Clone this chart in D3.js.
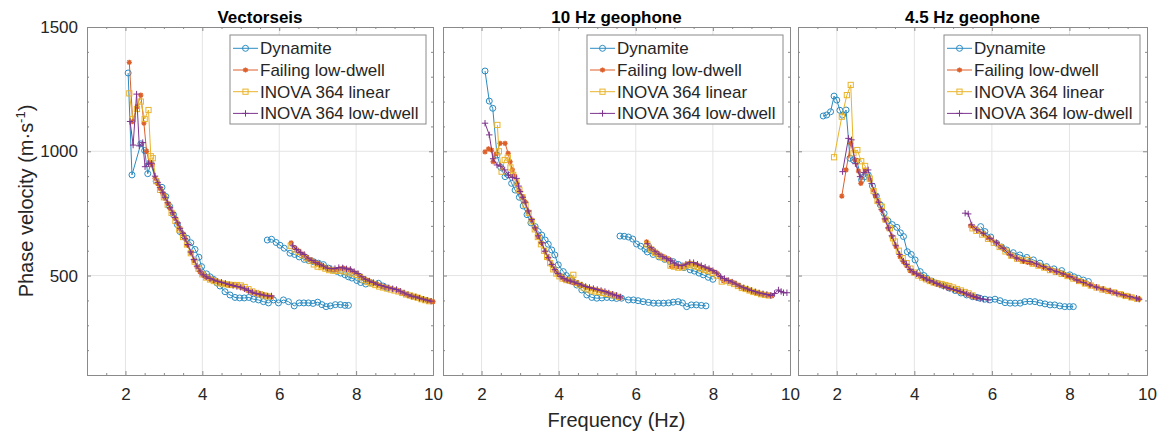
<!DOCTYPE html>
<html><head><meta charset="utf-8">
<script src="https://cdn.jsdelivr.net/npm/d3@7"></script>
<style>body{margin:0;background:#fff}svg{display:block}</style>
</head><body><svg id="c" width="1164" height="437"></svg>
<script>
// ---------- data ----------
const panelTitles = ["Vectorseis", "10 Hz geophone", "4.5 Hz geophone"];
const seriesNames = ["Dynamite", "Failing low-dwell", "INOVA 364 linear", "INOVA 364 low-dwell"];
const xTicks = [2, 4, 6, 8, 10];
const xMinorTicks = [1, 1.5, 2.5, 3, 3.5, 4.5, 5, 5.5, 6.5, 7, 7.5, 8.5, 9, 9.5];
const yTicks = [500, 1000, 1500];
const yMinorTicks = [100, 200, 300, 400, 600, 700, 800, 900, 1100, 1200, 1300, 1400];
const xDomain = [1, 10];
const yDomain = [100, 1500];

// Vectorseis
const vsDynamite = [[2.07,1315],[2.17,905],[2.40,1030],[2.50,1003],[2.58,910],[2.66,950],[2.80,880],[2.95,855],[3.05,818],[3.15,778],[3.25,745],[3.35,705],[3.42,677],[3.50,663],[3.60,650],[3.70,632],[3.81,605],[3.91,574],[3.98,536],[4.11,507],[4.20,495],[4.29,485],[4.38,470],[4.46,458],[4.59,435],[4.72,422],[4.85,412],[4.97,410],[5.09,410],[5.21,412],[5.33,405],[5.46,402],[5.59,395],[5.72,390],[5.85,402],[5.98,390],[6.11,402],[6.24,395],[6.39,378],[6.52,390],[6.64,390],[6.76,390],[6.88,388],[7.00,393],[7.11,383],[7.22,375],[7.33,378],[7.46,383],[7.59,383],[7.71,380],[7.80,380],null,
[5.69,643],[5.80,646],[5.92,633],[6.02,622],[6.13,610],[6.28,590],[6.40,585],[6.52,575],[6.65,565],[6.77,560],[6.89,556],[7.02,550],[7.15,544],[7.28,530],[7.40,522],[7.50,517],[7.60,510],[7.71,503],[7.80,495],[7.89,490],[8.02,480],[8.12,472],[8.25,466],[8.40,470],[8.58,469],[8.70,458],[8.80,450]];
const vsFailing = [[2.10,1358],[2.19,1119],[2.30,1180],[2.40,1226],[2.48,1113],[2.55,1000],[2.62,955],[2.70,945],[2.77,891],[2.84,870],[2.90,851],[2.97,830],[3.03,811],[3.10,790],[3.16,771],[3.23,750],[3.29,730],[3.36,710],[3.42,690],[3.49,668],[3.55,650],[3.62,622],[3.70,592],[3.78,560],[3.86,535],[3.94,515],[4.02,502],[4.10,494],[4.20,486],[4.30,480],[4.40,475],[4.50,470],[4.60,466],[4.70,462],[4.80,460],[4.90,458],[5.00,452],[5.10,446],[5.20,438],[5.30,432],[5.40,427],[5.50,424],[5.60,421],[5.70,416],[5.80,413],null,
[6.31,632],[6.40,612],[6.46,603],[6.55,592],[6.63,583],[6.72,572],[6.80,563],[6.90,556],[6.98,550],[7.07,542],[7.15,536],[7.25,528],[7.32,525],[7.42,524],[7.50,523],[7.58,528],[7.67,530],[7.75,525],[7.84,523],[7.93,515],[8.02,509],[8.10,498],[8.19,489],[8.28,482],[8.36,476],[8.45,470],[8.54,466],[8.62,460],[8.71,455],[8.80,452],[8.88,449],[8.97,445],[9.06,442],[9.15,435],[9.23,429],[9.32,423],[9.40,418],[9.49,416],[9.58,413],[9.66,409],[9.75,405],[9.84,401],[9.92,398],[10.0,395]];
const vsLinear = [[2.10,1233],[2.19,1130],[2.30,1170],[2.40,1200],[2.50,1130],[2.60,1166],[2.66,980],[2.71,972],[2.80,880],[2.90,845],[3.00,815],[3.10,785],[3.20,752],[3.30,720],[3.40,685],[3.50,655],[3.60,625],[3.70,590],[3.80,556],[3.90,528],[4.00,505],[4.10,492],[4.20,484],[4.30,478],[4.40,472],[4.50,468],[4.60,465],[4.70,463],[4.80,462],[4.90,462],[5.00,460],[5.10,454],[5.20,445],[5.30,436],[5.40,430],[5.50,425],[5.60,420],[5.70,416],null,
[6.30,620],[6.40,605],[6.50,595],[6.60,582],[6.70,570],[6.80,560],[6.90,545],[7.00,536],[7.10,534],[7.20,528],[7.30,522],[7.40,520],[7.50,519],[7.60,520],[7.70,517],[7.80,513],[7.90,508],[8.00,503],[8.10,494],[8.20,482],[8.30,474],[8.40,468],[8.50,462],[8.60,456],[8.70,452],[8.80,448],[8.90,444],[9.00,440],[9.10,436],[9.20,430],[9.30,424],[9.40,420],[9.50,415],[9.60,411],[9.70,405],[9.80,401],[9.90,397]];
const vsLowDwell = [[2.12,1120],[2.20,1025],[2.29,1230],[2.36,1022],[2.45,1035],[2.51,938],[2.60,950],[2.68,952],[2.77,900],[2.84,875],[2.90,855],[2.97,835],[3.03,815],[3.10,793],[3.16,773],[3.23,753],[3.29,733],[3.36,712],[3.42,690],[3.49,670],[3.55,648],[3.62,625],[3.70,595],[3.78,565],[3.86,538],[3.94,518],[4.02,503],[4.10,495],[4.20,488],[4.30,482],[4.40,477],[4.50,473],[4.60,469],[4.70,464],[4.80,460],[4.90,456],[5.00,453],[5.10,447],[5.20,440],[5.30,433],[5.40,428],[5.50,425],[5.60,421],[5.70,418],[5.80,418],null,
[6.35,620],[6.45,605],[6.55,593],[6.65,585],[6.75,570],[6.85,561],[6.95,552],[7.05,545],[7.15,538],[7.25,530],[7.35,528],[7.45,528],[7.55,532],[7.65,531],[7.75,527],[7.85,525],[7.95,516],[8.05,508],[8.15,495],[8.25,485],[8.35,478],[8.45,472],[8.55,465],[8.65,460],[8.75,455],[8.85,451],[8.95,447],[9.05,444],[9.15,437],[9.25,430],[9.35,423],[9.45,417],[9.55,414],[9.65,409],[9.75,405],[9.85,401],[9.95,397]];

// 10 Hz geophone
const g10Dynamite = [[2.09,1323],[2.20,1202],[2.29,1173],[2.40,985],[2.50,935],[2.61,898],[2.69,905],[2.78,871],[2.87,844],[2.98,815],[3.08,780],[3.18,745],[3.28,712],[3.39,697],[3.47,677],[3.56,663],[3.65,643],[3.73,626],[3.82,603],[3.90,583],[3.99,543],[4.12,516],[4.20,500],[4.29,489],[4.38,475],[4.47,462],[4.60,442],[4.73,422],[4.86,412],[4.99,409],[5.12,410],[5.25,412],[5.38,410],[5.50,408],[5.63,409],[5.81,402],[5.94,402],[6.06,399],[6.19,395],[6.33,392],[6.46,389],[6.59,389],[6.72,389],[6.85,390],[6.97,393],[7.10,395],[7.21,390],[7.32,375],[7.44,382],[7.57,382],[7.70,380],[7.82,378],null,
[5.59,659],[5.70,658],[5.81,655],[5.92,647],[6.02,627],[6.13,618],[6.24,606],[6.30,595],[6.45,585],[6.60,575],[6.75,565],[6.89,556],[6.97,556],[7.10,545],[7.25,532],[7.41,523],[7.52,518],[7.64,510],[7.75,503],[7.88,493],[8.00,485]];
const g10Failing = [[2.09,998],[2.18,1010],[2.26,1005],[2.30,958],[2.38,990],[2.48,1032],[2.61,1032],[2.69,992],[2.74,958],[2.80,925],[2.86,900],[2.93,870],[3.00,838],[3.07,815],[3.13,797],[3.21,757],[3.30,724],[3.39,690],[3.47,657],[3.56,630],[3.65,596],[3.73,570],[3.82,543],[3.90,522],[3.98,506],[4.06,495],[4.14,485],[4.22,480],[4.30,476],[4.40,472],[4.50,467],[4.60,460],[4.70,454],[4.80,449],[4.90,446],[5.00,442],[5.10,438],[5.20,433],[5.30,428],[5.40,422],[5.50,418],[5.60,410],null,
[6.28,636],[6.37,610],[6.46,598],[6.54,590],[6.62,583],[6.71,576],[6.80,569],[6.89,563],[6.93,536],[7.00,540],[7.06,536],[7.15,535],[7.23,536],[7.32,543],[7.41,550],[7.50,546],[7.58,543],[7.67,536],[7.75,530],[7.84,526],[7.92,523],[8.01,516],[8.10,509],[8.18,495],[8.27,480],[8.36,482],[8.45,476],[8.53,472],[8.62,463],[8.70,455],[8.79,450],[8.88,445],[8.96,440],[9.05,435],[9.14,430],[9.22,426],[9.31,424],[9.40,422],[9.48,420],[9.53,418]];
const g10Linear = [[2.41,1106],[2.45,1000],[2.52,918],[2.60,965],[2.68,975],[2.75,935],[2.82,905],[2.90,875],[2.98,845],[3.06,815],[3.14,785],[3.22,752],[3.30,718],[3.38,686],[3.46,655],[3.54,626],[3.62,600],[3.70,575],[3.78,550],[3.86,525],[3.94,508],[4.02,497],[4.10,488],[4.20,482],[4.30,480],[4.38,503],[4.45,470],[4.55,462],[4.65,452],[4.75,445],[4.85,440],[4.95,436],[5.05,434],[5.15,430],[5.25,426],[5.35,424],[5.45,420],[5.55,414],null,
[6.30,625],[6.40,605],[6.50,592],[6.60,580],[6.70,572],[6.80,566],[6.90,540],[7.00,536],[7.10,532],[7.20,533],[7.30,540],[7.40,545],[7.50,540],[7.60,535],[7.70,528],[7.80,522],[7.90,518],[8.00,510],[8.10,500],[8.23,476],[8.35,478],[8.45,472],[8.55,466],[8.65,458],[8.75,450],[8.85,446],[8.95,440],[9.05,434],[9.15,430],[9.25,425],[9.35,422],[9.45,420]];
const g10LowDwell = [[2.09,1113],[2.20,1066],[2.30,970],[2.40,945],[2.50,940],[2.60,925],[2.70,905],[2.80,895],[2.91,891],[2.96,860],[3.00,838],[3.07,815],[3.13,795],[3.21,760],[3.30,726],[3.39,692],[3.47,660],[3.56,632],[3.65,598],[3.73,572],[3.82,545],[3.90,524],[3.98,508],[4.06,496],[4.14,488],[4.22,482],[4.30,478],[4.40,474],[4.50,468],[4.60,462],[4.70,456],[4.80,452],[4.90,448],[5.00,444],[5.10,440],[5.20,436],[5.30,430],[5.40,425],[5.50,420],[5.60,414],null,
[6.30,628],[6.40,612],[6.50,598],[6.60,586],[6.70,576],[6.80,568],[6.90,560],[7.00,550],[7.10,542],[7.20,540],[7.30,546],[7.40,553],[7.50,552],[7.60,546],[7.70,540],[7.80,534],[7.90,528],[8.00,520],[8.10,510],[8.20,496],[8.30,488],[8.40,480],[8.50,474],[8.60,466],[8.70,458],[8.80,451],[8.90,446],[9.00,440],[9.10,435],[9.20,430],[9.30,427],[9.40,424],[9.50,420],[9.60,428],[9.70,442],[9.77,436],[9.83,431],[9.92,431]];

// 4.5 Hz geophone
const g45Dynamite = [[1.65,1142],[1.74,1146],[1.84,1159],[1.93,1222],[2.00,1206],[2.08,1165],[2.15,1146],[2.24,1166],[2.34,972],[2.43,965],[2.52,960],[2.64,885],[2.72,898],[2.81,905],[2.92,860],[3.02,820],[3.12,785],[3.22,750],[3.32,720],[3.43,705],[3.55,694],[3.64,672],[3.72,657],[3.82,596],[3.92,585],[4.02,563],[4.15,516],[4.25,500],[4.32,489],[4.45,478],[4.60,468],[4.75,460],[4.90,450],[5.05,440],[5.20,430],[5.35,422],[5.50,415],[5.62,412],[5.69,409],[5.82,405],[5.95,402],[6.08,405],[6.21,399],[6.34,391],[6.47,389],[6.60,389],[6.73,389],[6.85,395],[6.98,396],[7.11,395],[7.24,390],[7.37,386],[7.50,382],[7.62,382],[7.75,378],[7.88,375],[8.00,375],[8.10,375],null,
[5.71,697],[5.82,677],[5.97,655],[6.12,630],[6.25,615],[6.38,603],[6.55,592],[6.72,583],[6.90,573],[7.07,563],[7.24,550],[7.41,536],[7.60,527],[7.80,520],[8.01,503],[8.12,495],[8.23,489],[8.36,482],[8.49,476]];
const g45Failing = [[2.13,820],[2.24,925],[2.36,1032],[2.47,965],[2.56,920],[2.62,871],[2.73,925],[2.86,885],[2.94,844],[3.00,820],[3.07,797],[3.16,764],[3.24,724],[3.33,690],[3.42,657],[3.53,616],[3.63,576],[3.72,555],[3.80,540],[3.89,520],[3.97,512],[4.06,505],[4.15,500],[4.24,490],[4.32,485],[4.40,478],[4.49,472],[4.58,467],[4.66,462],[4.75,457],[4.84,453],[4.92,449],[5.01,445],[5.10,440],[5.18,435],[5.27,430],[5.35,425],[5.44,420],[5.52,415],[5.60,412],null,
[5.45,700],[5.55,690],[5.65,680],[5.78,668],[5.90,652],[6.00,643],[6.12,630],[6.22,617],[6.32,605],[6.42,590],[6.52,580],[6.62,572],[6.72,565],[6.82,558],[6.92,553],[7.02,550],[7.12,545],[7.22,540],[7.33,534],[7.43,528],[7.53,523],[7.63,518],[7.73,512],[7.84,506],[7.94,500],[8.04,494],[8.14,486],[8.24,480],[8.34,474],[8.44,468],[8.54,462],[8.64,456],[8.74,451],[8.84,446],[8.94,441],[9.04,437],[9.14,432],[9.24,428],[9.34,423],[9.44,419],[9.54,415],[9.64,410],[9.74,407],[9.80,405]];
const g45Linear = [[1.93,976],[2.13,1139],[2.26,1226],[2.36,1267],[2.43,992],[2.53,1005],[2.63,960],[2.73,941],[2.85,890],[2.95,840],[3.05,800],[3.16,777],[3.26,725],[3.37,690],[3.45,650],[3.50,637],[3.60,600],[3.70,570],[3.80,550],[3.90,528],[4.00,512],[4.10,500],[4.20,492],[4.30,485],[4.40,478],[4.50,472],[4.60,468],[4.70,466],[4.80,462],[4.90,458],[5.00,452],[5.10,446],[5.20,440],[5.30,434],[5.40,428],[5.50,420],null,
[5.50,690],[5.60,680],[5.75,665],[5.90,648],[6.05,632],[6.20,615],[6.35,597],[6.50,580],[6.65,568],[6.80,560],[6.94,563],[7.05,548],[7.20,540],[7.35,532],[7.50,522],[7.65,515],[7.80,507],[7.95,498],[8.10,488],[8.25,478],[8.40,468],[8.55,460],[8.70,452],[8.85,444],[9.00,438],[9.15,432],[9.30,425],[9.45,418],[9.60,412],[9.75,406]];
const g45LowDwell = [[2.15,918],[2.30,1052],[2.38,1046],[2.48,950],[2.60,898],[2.70,915],[2.81,925],[2.90,870],[3.00,825],[3.08,795],[3.16,765],[3.24,728],[3.33,692],[3.42,660],[3.52,622],[3.62,585],[3.72,558],[3.80,545],[3.89,525],[3.97,515],[4.06,507],[4.15,500],[4.24,492],[4.32,486],[4.40,480],[4.49,474],[4.58,468],[4.66,462],[4.75,457],[4.84,452],[4.92,448],[5.01,444],[5.10,440],[5.18,436],[5.27,431],[5.35,426],[5.44,421],[5.52,416],[5.61,412],[5.70,408],[5.78,405],[5.90,402],null,
[5.31,751],[5.39,748],[5.48,704],[5.61,684],[5.78,670],[5.95,650],[6.12,632],[6.29,610],[6.47,583],[6.64,570],[6.81,560],[6.98,556],[7.15,547],[7.33,536],[7.50,525],[7.67,516],[7.84,507],[8.01,496],[8.19,482],[8.36,472],[8.53,462],[8.70,453],[8.87,445],[9.05,438],[9.22,429],[9.39,422],[9.56,415],[9.73,409],[9.80,405]];

// ---------- drawing ----------
const colors = ["#2b8cc2", "#dd5f2a", "#e9b42c", "#7e358f"];
const markers = ["circle", "asterisk", "square", "plus"];
const FONT = "'Liberation Sans', Arial, Helvetica, sans-serif";
const svg = d3.select("#c");

const panels = [
  {title: panelTitles[0], range: [87, 433], series: [vsDynamite, vsFailing, vsLinear, vsLowDwell]},
  {title: panelTitles[1], range: [443, 790], series: [g10Dynamite, g10Failing, g10Linear, g10LowDwell]},
  {title: panelTitles[2], range: [798, 1147], series: [g45Dynamite, g45Failing, g45Linear, g45LowDwell]}
];
const plotTop = 27, plotBottom = 375;
const yScale = d3.scaleLinear().domain(yDomain).range([plotBottom, plotTop]);

function drawMarker(sel, type, color) {
  if (type === "circle") {
    sel.append("circle").attr("r", 3).attr("fill", "none").attr("stroke", color).attr("stroke-width", 1);
  } else if (type === "square") {
    sel.append("rect").attr("x", -2.6).attr("y", -2.6).attr("width", 5.2).attr("height", 5.2)
      .attr("fill", "none").attr("stroke", color).attr("stroke-width", 1);
  } else if (type === "plus") {
    sel.append("path").attr("d", "M-3.2,0H3.2M0,-3.2V3.2").attr("stroke", color).attr("stroke-width", 1).attr("fill", "none");
  } else {
    sel.append("path").attr("d", "M-2.6,0H2.6M0,-2.6V2.6M-1.9,-1.9L1.9,1.9M-1.9,1.9L1.9,-1.9")
      .attr("stroke", color).attr("stroke-width", 1.3).attr("fill", "none");
  }
}

const axisColor = "#8a8a8a";
const textColor = "#262626";

panels.forEach((p, pi) => {
  const x = d3.scaleLinear().domain(xDomain).range(p.range);
  const y = yScale;
  const g = svg.append("g");

  // grid
  g.append("g").selectAll("line").data(xTicks.filter(t => t < xDomain[1])).enter().append("line")
    .attr("x1", d => x(d)).attr("x2", d => x(d)).attr("y1", plotTop).attr("y2", plotBottom)
    .attr("stroke", "#e4e4e4").attr("stroke-width", 1);
  g.append("g").selectAll("line").data(yTicks.filter(t => t < yDomain[1])).enter().append("line")
    .attr("y1", d => y(d)).attr("y2", d => y(d)).attr("x1", p.range[0]).attr("x2", p.range[1])
    .attr("stroke", "#e4e4e4").attr("stroke-width", 1);

  // axes (ticks inward, box)
  const mk = (axisFn, scale, vals, size, translate, labels) => {
    const a = axisFn(scale).tickValues(vals).tickSizeInner(size).tickSizeOuter(0);
    if (!labels) a.tickFormat(""); else a.tickFormat(d3.format("d"));
    const ag = g.append("g").attr("transform", translate).call(a);
    ag.select(".domain").attr("stroke", axisColor);
    ag.selectAll(".tick line").attr("stroke", axisColor);
    ag.selectAll(".tick text").attr("fill", textColor).style("font-family", FONT).style("font-size", "17px");
    return ag;
  };
  const bx = mk(d3.axisBottom, x, xTicks, -4, `translate(0,${plotBottom})`, true);
  bx.selectAll(".tick text").attr("y", 13).attr("dy", "0.71em");
  mk(d3.axisBottom, x, xMinorTicks, -2, `translate(0,${plotBottom})`, false);
  mk(d3.axisTop, x, xTicks, -4, `translate(0,${plotTop})`, false);
  mk(d3.axisTop, x, xMinorTicks, -2, `translate(0,${plotTop})`, false);
  const ly = mk(d3.axisLeft, y, yTicks, -4, `translate(${p.range[0]},0)`, pi === 0);
  if (pi === 0) ly.selectAll(".tick text").attr("x", -9);
  mk(d3.axisLeft, y, yMinorTicks, -2, `translate(${p.range[0]},0)`, false);
  mk(d3.axisRight, y, yTicks, -4, `translate(${p.range[1]},0)`, false);
  mk(d3.axisRight, y, yMinorTicks, -2, `translate(${p.range[1]},0)`, false);

  // series
  const line = d3.line().defined(d => d !== null).x(d => x(d[0])).y(d => y(d[1]));
  p.series.forEach((data, si) => {
    const sg = g.append("g");
    sg.append("path").datum(data).attr("d", line).attr("fill", "none")
      .attr("stroke", colors[si]).attr("stroke-width", 1);
    const pts = sg.selectAll("g.pt").data(data.filter(d => d !== null)).enter().append("g")
      .attr("class", "pt").attr("transform", d => `translate(${x(d[0])},${y(d[1])})`);
    drawMarker(pts, markers[si], colors[si]);
  });

  // title
  g.append("text").attr("x", (p.range[0] + p.range[1]) / 2).attr("y", 23)
    .attr("text-anchor", "middle").style("font-family", FONT).style("font-size", "17px")
    .style("font-weight", "bold").attr("fill", "#000").text(p.title);

  // legend
  const lw = 196, lh = 89;
  const lx = p.range[1] - 7 - lw, lyTop = 35;
  const lg = g.append("g").attr("transform", `translate(${lx},${lyTop})`);
  lg.append("rect").attr("width", lw).attr("height", lh).attr("fill", "#fff")
    .attr("stroke", axisColor).attr("stroke-width", 1);
  seriesNames.forEach((name, si) => {
    const ry = 13.3 + si * 21.7;
    lg.append("line").attr("x1", 3).attr("x2", 28).attr("y1", ry).attr("y2", ry)
      .attr("stroke", colors[si]).attr("stroke-width", 1);
    const m = lg.append("g").attr("transform", `translate(15.5,${ry})`);
    drawMarker(m, markers[si], colors[si]);
    lg.append("text").attr("x", 30).attr("y", ry).attr("dy", "0.35em")
      .style("font-family", FONT).style("font-size", "17px").attr("fill", textColor).text(name);
  });
});

// axis labels
svg.append("text").attr("x", 616.5).attr("y", 427).attr("text-anchor", "middle")
  .style("font-family", FONT).style("font-size", "20px").attr("fill", textColor).text("Frequency (Hz)");
const yl = svg.append("text").attr("transform", "translate(33,201) rotate(-90)").attr("text-anchor", "middle")
  .style("font-family", FONT).style("font-size", "20px").attr("fill", textColor);
yl.append("tspan").text("Phase velocity (m\u00B7s");
yl.append("tspan").attr("dy", -8).style("font-size", "13px").text("-1");
yl.append("tspan").attr("dy", 8).text(")");
</script></body></html>
